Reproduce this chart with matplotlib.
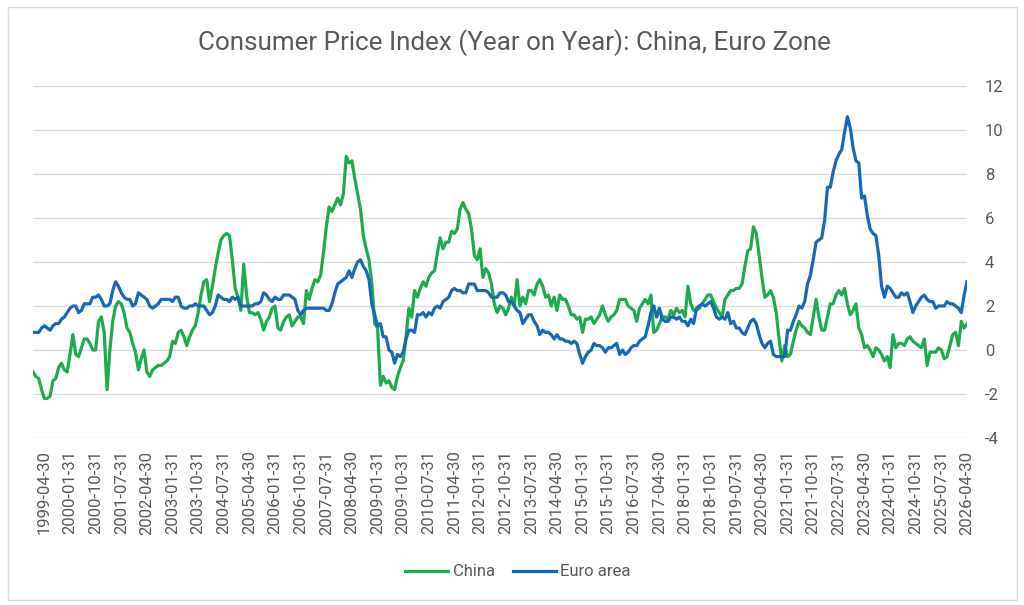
import matplotlib
matplotlib.use("Agg")
import matplotlib.pyplot as plt
import pandas as pd
from matplotlib.patches import Rectangle

plt.rcParams['font.family'] = ['Roboto', 'DejaVu Sans']

# ---------------- data (monthly, 1998-12 .. 2026-04) ----------------
start_date = "1998-12-31"

china = [
    -1.0,
    -1.2, -1.3, -1.8, -2.2, -2.2, -2.1, -1.4, -1.3, -0.8, -0.6, -0.9, -1.0,   # 1999
    -0.2, 0.7, -0.2, -0.3, 0.1, 0.5, 0.5, 0.3, 0.0, 0.0, 1.3, 1.5,            # 2000
    0.8, -1.8, 0.0, 1.3, 2.0, 2.2, 2.1, 1.7, 1.0, 0.8, 0.3, -0.1,             # 2001
    -0.9, -0.4, 0.0, -1.0, -1.2, -0.9, -0.8, -0.7, -0.7, -0.6, -0.5, -0.3,    # 2002
    0.4, 0.3, 0.8, 0.9, 0.6, 0.2, 0.6, 0.9, 1.1, 1.7, 2.5, 3.1,               # 2003
    3.2, 2.2, 2.9, 3.7, 4.4, 5.0, 5.2, 5.3, 5.2, 4.1, 2.8, 2.4,               # 2004
    1.8, 3.9, 2.5, 1.7, 1.7, 1.6, 1.7, 1.4, 0.9, 1.3, 1.5, 1.9,               # 2005
    2.0, 1.0, 0.9, 1.3, 1.5, 1.6, 1.1, 1.3, 1.5, 1.5, 1.2, 2.7,               # 2006
    2.3, 2.8, 3.2, 3.1, 3.4, 4.4, 5.6, 6.5, 6.3, 6.6, 6.9, 6.6,               # 2007
    7.1, 8.8, 8.5, 8.6, 7.8, 7.1, 6.4, 5.2, 4.6, 4.1, 3.0, 1.2,               # 2008
    1.0, -1.6, -1.2, -1.5, -1.4, -1.7, -1.8, -1.2, -0.8, -0.5, 0.6, 1.9,      # 2009
    1.5, 2.7, 2.4, 2.8, 3.1, 2.9, 3.3, 3.5, 3.6, 4.4, 5.1, 4.6,               # 2010
    4.9, 4.9, 5.4, 5.3, 5.5, 6.4, 6.7, 6.4, 6.2, 5.5, 4.3, 4.1,               # 2011
    4.6, 3.3, 3.7, 3.5, 3.0, 2.1, 1.7, 2.0, 1.9, 1.6, 1.9, 2.4,               # 2012
    2.0, 3.2, 2.0, 2.4, 2.1, 2.7, 2.7, 2.5, 3.0, 3.2, 2.9, 2.4,               # 2013
    2.5, 2.0, 2.4, 1.8, 2.5, 2.3, 2.3, 2.0, 1.6, 1.6, 1.4, 1.5,               # 2014
    0.8, 1.4, 1.4, 1.5, 1.2, 1.4, 1.6, 2.0, 1.6, 1.3, 1.5, 1.6,               # 2015
    1.8, 2.3, 2.3, 2.3, 2.0, 1.9, 1.8, 1.3, 1.9, 2.1, 2.3, 2.1,               # 2016
    2.5, 0.8, 0.9, 1.2, 1.5, 1.5, 1.4, 1.8, 1.6, 1.9, 1.7, 1.8,               # 2017
    1.5, 2.9, 2.1, 1.8, 1.8, 1.9, 2.1, 2.3, 2.5, 2.5, 2.2, 1.9,               # 2018
    1.7, 1.5, 2.3, 2.5, 2.7, 2.7, 2.8, 2.8, 3.0, 3.8, 4.5, 4.6,               # 2019
    5.6, 5.3, 4.3, 3.3, 2.4, 2.5, 2.7, 2.4, 1.7, 0.5, -0.5, 0.2,              # 2020
    -0.3, -0.2, 0.4, 0.9, 1.3, 1.1, 1.0, 0.8, 0.7, 1.5, 2.3, 1.5,             # 2021
    0.9, 0.9, 1.5, 2.1, 2.1, 2.5, 2.7, 2.5, 2.8, 2.1, 1.6, 1.8,               # 2022
    2.1, 1.0, 0.7, 0.1, 0.2, 0.0, -0.3, 0.1, 0.0, -0.2, -0.5, -0.3,           # 2023
    -0.8, 0.7, 0.1, 0.3, 0.3, 0.2, 0.5, 0.6, 0.4, 0.3, 0.2, 0.1,              # 2024
    0.5, -0.7, -0.1, -0.1, -0.1, 0.1, 0.0, -0.4, -0.3, 0.2, 0.7, 0.8,         # 2025
    0.2, 1.3, 1.0, 1.2,                                                       # 2026
]

euro = [
    0.8,
    0.8, 0.8, 1.0, 1.1, 1.0, 0.9, 1.1, 1.2, 1.2, 1.4, 1.5, 1.7,               # 1999
    1.9, 2.0, 2.0, 1.7, 1.8, 2.1, 2.1, 2.1, 2.4, 2.4, 2.5, 2.3,               # 2000
    2.0, 2.0, 2.1, 2.7, 3.1, 2.9, 2.6, 2.4, 2.3, 2.3, 2.0, 2.1,               # 2001
    2.6, 2.5, 2.4, 2.3, 2.0, 1.9, 2.0, 2.1, 2.3, 2.3, 2.3, 2.3,               # 2002
    2.2, 2.4, 2.4, 2.0, 1.9, 1.9, 2.0, 2.0, 2.1, 2.0, 2.0, 2.0,               # 2003
    1.8, 1.6, 1.7, 2.0, 2.5, 2.4, 2.3, 2.3, 2.2, 2.4, 2.3, 2.4,               # 2004
    2.0, 2.0, 2.0, 2.0, 2.0, 2.1, 2.1, 2.2, 2.6, 2.5, 2.3, 2.2,               # 2005
    2.4, 2.3, 2.3, 2.5, 2.5, 2.5, 2.4, 2.3, 1.8, 1.6, 1.8, 1.9,               # 2006
    1.9, 1.9, 1.9, 1.9, 1.9, 1.9, 1.8, 1.8, 2.1, 2.6, 3.0, 3.1,               # 2007
    3.2, 3.3, 3.6, 3.3, 3.7, 4.0, 4.1, 3.8, 3.6, 3.2, 2.1, 1.6,               # 2008
    1.1, 1.2, 0.6, 0.6, 0.0, -0.1, -0.6, -0.2, -0.3, -0.1, 0.5, 0.9,          # 2009
    0.9, 0.8, 1.6, 1.6, 1.7, 1.5, 1.7, 1.6, 1.9, 2.0, 1.9, 2.2,               # 2010
    2.3, 2.4, 2.7, 2.8, 2.7, 2.7, 2.6, 2.6, 3.0, 3.0, 3.0, 2.7,               # 2011
    2.7, 2.7, 2.7, 2.6, 2.4, 2.4, 2.4, 2.6, 2.6, 2.5, 2.2, 2.2,               # 2012
    2.0, 1.8, 1.7, 1.2, 1.4, 1.6, 1.6, 1.3, 1.1, 0.7, 0.9, 0.8,               # 2013
    0.8, 0.7, 0.5, 0.7, 0.5, 0.5, 0.4, 0.4, 0.3, 0.4, 0.3, -0.2,              # 2014
    -0.6, -0.3, -0.1, 0.0, 0.3, 0.2, 0.2, 0.1, -0.1, 0.1, 0.1, 0.2,           # 2015
    0.3, -0.2, 0.0, -0.2, -0.1, 0.1, 0.2, 0.2, 0.4, 0.5, 0.6, 1.1,            # 2016
    1.7, 2.0, 1.5, 1.9, 1.4, 1.3, 1.3, 1.5, 1.5, 1.4, 1.5, 1.3,               # 2017
    1.3, 1.1, 1.4, 1.2, 1.9, 2.0, 2.1, 2.0, 2.1, 2.2, 1.9, 1.5,               # 2018
    1.4, 1.5, 1.4, 1.7, 1.2, 1.3, 1.0, 1.0, 0.8, 0.7, 1.0, 1.3,               # 2019
    1.4, 1.2, 0.7, 0.3, 0.1, 0.3, 0.4, -0.2, -0.3, -0.3, -0.3, -0.3,          # 2020
    0.9, 0.9, 1.3, 1.6, 2.0, 1.9, 2.2, 3.0, 3.4, 4.1, 4.9, 5.0,               # 2021
    5.1, 5.9, 7.4, 7.4, 8.1, 8.6, 8.9, 9.1, 9.9, 10.6, 10.1, 9.2,             # 2022
    8.6, 8.5, 6.9, 7.0, 6.1, 5.5, 5.3, 5.2, 4.3, 2.9, 2.4, 2.9,               # 2023
    2.8, 2.6, 2.4, 2.4, 2.6, 2.5, 2.6, 2.2, 1.7, 2.0, 2.2, 2.4,               # 2024
    2.5, 2.3, 2.2, 2.2, 1.9, 2.0, 2.0, 2.0, 2.2, 2.1, 2.1, 2.0,               # 2025
    1.9, 1.7, 2.5, 3.1,                                                       # 2026
]

title = "Consumer Price Index (Year on Year): China, Euro Zone"
series_names = ["China", "Euro area"]
y_ticks = [-4, -2, 0, 2, 4, 6, 8, 10, 12]
label_every = 9
label_first = 4

dates = pd.date_range(start_date, periods=len(china), freq="ME")
x = list(range(len(dates)))
tick_pos = x[label_first::label_every]
tick_labels = [dates[i].strftime("%Y-%m-%d") for i in tick_pos]

# ---------------- figure ----------------
W, H = 1024, 605
fig = plt.figure(figsize=(W / 100, H / 100), dpi=100)
fig.patch.set_facecolor("white")

# outer chart frame
fig.add_artist(Rectangle((8 / W, 1 - 600 / H), (1017 - 8) / W, (600 - 7) / H,
                         transform=fig.transFigure, fill=False,
                         edgecolor="#d9d9d9", linewidth=1.0))

ax = fig.add_axes([33 / W, 1 - 438 / H, (967 - 33) / W, (438 - 86) / H])
text_col = "#595959"
green = "#1EAA4E"
blue = "#1768B7"

ax.plot(x, china, color=green, lw=2.3, label=series_names[0], solid_joinstyle="round")
ax.plot(x, euro, color=blue, lw=2.3, label=series_names[1], solid_joinstyle="round")

ax.set_xlim(0, len(x) - 1)
ax.set_ylim(-4, 12)
ax.set_yticks(y_ticks)
ax.set_yticklabels([str(v) for v in y_ticks])
ax.yaxis.tick_right()
ax.grid(axis="y", color="#d9d9d9", lw=1.0)
ax.set_axisbelow(True)
for s in ax.spines.values():
    s.set_visible(False)
ax.set_xticks(tick_pos)
ax.set_xticklabels(tick_labels, rotation=90)
ax.tick_params(axis="both", length=0, labelsize=12, labelcolor=text_col)
ax.tick_params(axis="y", pad=13)
ax.tick_params(axis="x", pad=9)
for lab in ax.get_yticklabels():
    lab.set_horizontalalignment("left")

leg = fig.legend(loc="center", bbox_to_anchor=(518 / W, 1 - 572 / H), ncol=2,
                 frameon=False, fontsize=12, handlelength=2.6, handletextpad=0.25,
                 columnspacing=1.1)
for t in leg.get_texts():
    t.set_color(text_col)

t = fig.text(514 / W, 1 - 43 / H, title, ha="center", va="center",
             fontsize=18, color=text_col)
# fit title width to reference (~635 px)
fig.canvas.draw()
w = t.get_window_extent().width
t.set_fontsize(18 * 635 / w)

fig.savefig("out.png", dpi=100, facecolor="white")
